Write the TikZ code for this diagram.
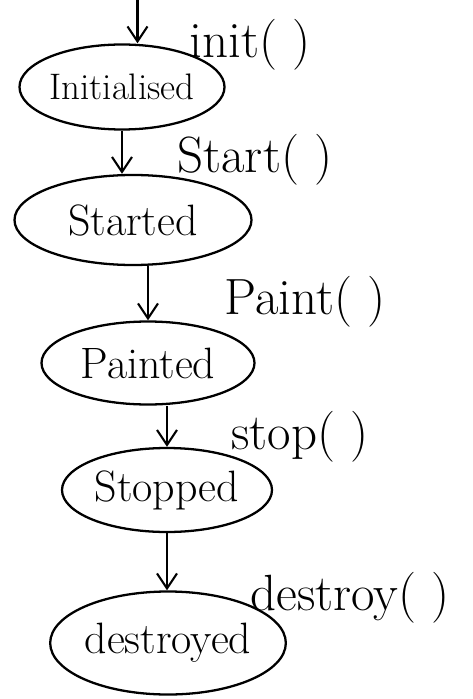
\documentclass[tikz,border=0pt]{standalone}
\usepackage{tikz}
\usetikzlibrary{arrows.meta, positioning, shapes}

\begin{document}
\begin{tikzpicture}[
      state/.style={draw, ellipse, line width=1.3pt, inner sep=0pt, font=\fontsize{25}{28}\selectfont},
      lbl/.style={font=\fontsize{29}{32}\selectfont},
      arr/.style={-{Straight Barb[length=3mm, width=4mm]}, line width=1.2pt}
    ]
      \useasboundingbox (0,0) rectangle (9.44,-13.98);

      % entry
      \coordinate (entry) at (2.75,0.05);

      % States
      \node[state, font=\fontsize{21}{24}\selectfont, minimum width=3.62cm, minimum height=1.7cm] (init) at (2.44,-1.74) {Initialised};
      \node[state, minimum width=4.74cm, minimum height=1.8cm] (start) at (2.66,-4.4) {Started};
      \node[state, minimum width=4.26cm, minimum height=1.66cm] (paint) at (2.96,-7.26) {Painted};
      \node[state, minimum width=4.2cm, minimum height=1.68cm] (stop) at (3.34,-9.8) {Stopped};
      \node[state, minimum width=4.66cm, minimum height=2.06cm] (destroy) at (3.36,-12.86) {destroyed};

      % Method labels
      \node[lbl] (linit) at (5.0,-0.9) {init( )};
      \node[lbl] (lstart) at (5.1,-3.2) {Start( )};
      \node[lbl] (lpaint) at (6.1,-6.04) {Paint( )};
      \node[lbl] (lstop) at (6.0,-8.74) {stop( )};
      \node[lbl] (ldestroy) at (7.0,-11.96) {destroy( )};

      % Arrows
      \draw[arr] (entry) -- (entry |- init.north);
      \draw[arr] (init) -- (init |- start.north);
      \draw[arr] (paint.north |- start.south) -- (paint.north);
      \draw[arr] (stop.north |- paint.south) -- (stop.north);
      \draw[arr] (stop) -- (stop |- destroy.north);
    \end{tikzpicture}
\end{document}
